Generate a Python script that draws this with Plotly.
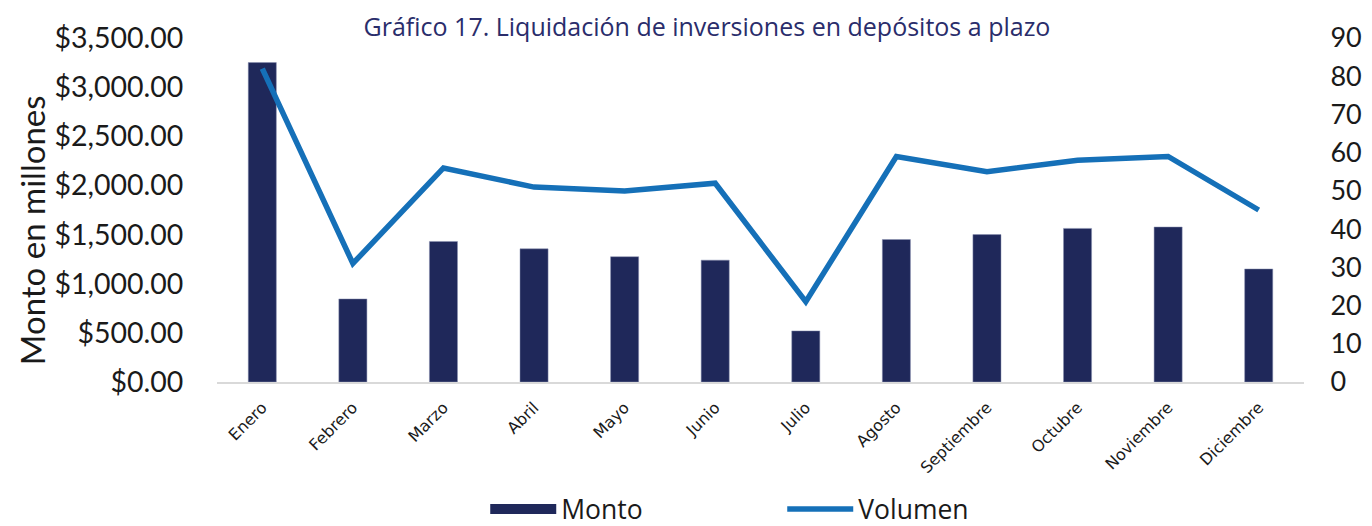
import plotly.graph_objects as go

meses = ["Enero", "Febrero", "Marzo", "Abril", "Mayo", "Junio", "Julio",
         "Agosto", "Septiembre", "Octubre", "Noviembre", "Diciembre"]
monto = [3250, 845, 1430, 1355, 1275, 1240, 520, 1450, 1500, 1563, 1577, 1150]
volumen = [82, 31, 56, 51, 50, 52, 21, 59, 55, 58, 59, 45]

left_ticks = [0, 500, 1000, 1500, 2000, 2500, 3000, 3500]
left_labels = ["$0.00", "$500.00", "$1,000.00", "$1,500.00", "$2,000.00",
               "$2,500.00", "$3,000.00", "$3,500.00"]
right_ticks = [0, 10, 20, 30, 40, 50, 60, 70, 80, 90]

NAVY = "#1f285a"
BLUE = "#1570b8"
FONT = "Lato"

fig = go.Figure()
fig.add_trace(go.Bar(
    x=meses, y=monto, name="Monto", legendgroup="monto", showlegend=False,
    marker=dict(color=NAVY, line=dict(color="#8a90b0", width=0.5)),
    width=0.31,
))
# legend-only entry so the "Monto" key is drawn as a wide navy block
fig.add_trace(go.Scatter(
    x=[None], y=[None], name="Monto", legendgroup="monto",
    mode="lines", line=dict(color=NAVY, width=20), hoverinfo="skip",
))
fig.add_trace(go.Scatter(
    x=meses, y=volumen, name="Volumen", yaxis="y2",
    mode="lines", line=dict(color=BLUE, width=5.5),
))

W, H = 1364, 518
fig.update_layout(
    width=W, height=H,
    margin=dict(l=209, r=68, t=30, b=144, autoexpand=False),
    paper_bgcolor="white", plot_bgcolor="white",
    font=dict(family=FONT, color="#1a1a1a"),
    title=dict(text="Gráfico 17. Liquidación de inversiones en depósitos a plazo",
               x=699 / W, xref="container", xanchor="center",
               y=1 - 19 / H, yref="container", yanchor="middle",
               font=dict(family="Open Sans", size=25, color="#2a2d6b")),
    showlegend=True,
    legend=dict(orientation="h", x=0.52, xanchor="center", y=-0.37,
                yanchor="middle", font=dict(family="Open Sans", size=26.5, color="#1a1a1a"),
                entrywidth=216, entrywidthmode="pixels", itemwidth=66,
                traceorder="normal"),
    xaxis=dict(
        type="category", tickangle=-45, showgrid=False,
        showline=True, linecolor="#d9d9d9", linewidth=2,
        ticks="outside", ticklen=8, tickcolor="rgba(0,0,0,0)",
        tickfont=dict(family="DejaVu Sans", size=16, color="#1a1a1a"),
    ),
    yaxis=dict(
        range=[0, 3500], tickvals=left_ticks, ticktext=left_labels,
        showgrid=False, zeroline=False, showline=False,
        ticks="outside", ticklen=27, tickcolor="rgba(0,0,0,0)",
        tickfont=dict(family=FONT, size=28.5, color="#1a1a1a"),
    ),
    yaxis2=dict(
        range=[0, 90], tickvals=right_ticks, overlaying="y", side="right",
        showgrid=False, zeroline=False, showline=False,
        ticks="outside", ticklen=20, tickcolor="rgba(0,0,0,0)",
        tickfont=dict(family=FONT, size=27, color="#1a1a1a"),
    ),
    annotations=[dict(
        text="Monto en millones", textangle=-90,
        xref="paper", yref="paper", x=-0.170, y=0.442,
        xanchor="center", yanchor="middle", showarrow=False,
        font=dict(family=FONT, size=33, color="#1a1a1a"),
    )],
    bargap=0.69,
)

fig.write_html("out.html")
